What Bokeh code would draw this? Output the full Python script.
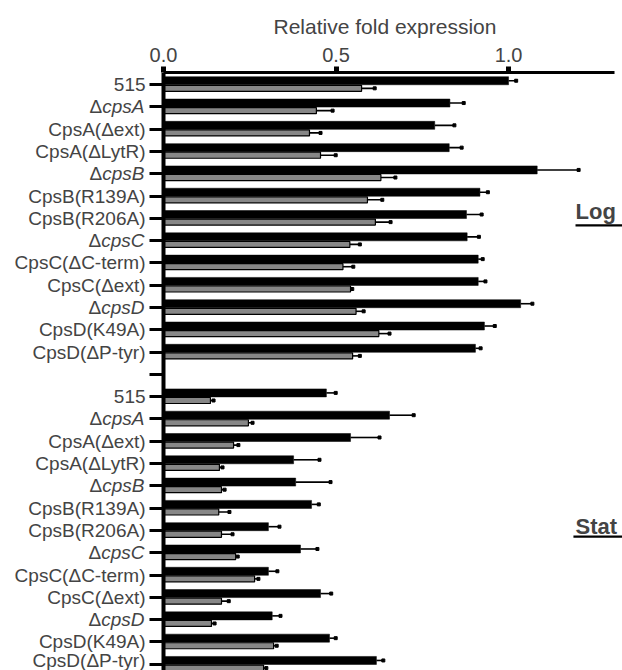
from bokeh.plotting import figure
from bokeh.models import (Range1d, FixedTicker, Label, ColumnDataSource,
                          PrintfTickFormatter, LinearAxis)
from bokeh.embed import file_html
from bokeh.resources import INLINE

strains = ["515", "ΔcpsA", "CpsA(Δext)", "CpsA(ΔLytR)", "ΔcpsB", "CpsB(R139A)",
           "CpsB(R206A)", "ΔcpsC", "CpsC(ΔC-term)", "CpsC(Δext)", "ΔcpsD",
           "CpsD(K49A)", "CpsD(ΔP-tyr)"]
groups = ["Log", "Stat"]

log_black = [1.00, 0.83, 0.786, 0.828, 1.083, 0.917, 0.878, 0.88, 0.912, 0.912, 1.035, 0.93, 0.904]
log_black_err = [0.022, 0.04, 0.057, 0.036, 0.12, 0.023, 0.044, 0.034, 0.013, 0.021, 0.034, 0.03, 0.015]
log_gray = [0.574, 0.443, 0.423, 0.455, 0.63, 0.591, 0.614, 0.54, 0.52, 0.542, 0.558, 0.624, 0.548]
log_gray_err = [0.038, 0.047, 0.032, 0.044, 0.042, 0.043, 0.044, 0.029, 0.03, 0.005, 0.022, 0.031, 0.021]

stat_black = [0.472, 0.655, 0.542, 0.377, 0.383, 0.429, 0.304, 0.397, 0.304, 0.455, 0.315, 0.481, 0.617]
stat_black_err = [0.027, 0.07, 0.084, 0.075, 0.101, 0.021, 0.032, 0.049, 0.026, 0.031, 0.024, 0.018, 0.02]
stat_gray = [0.136, 0.246, 0.203, 0.162, 0.168, 0.16, 0.168, 0.209, 0.264, 0.168, 0.139, 0.319, 0.29]
stat_gray_err = [0.009, 0.012, 0.014, 0.009, 0.009, 0.031, 0.032, 0.006, 0.011, 0.021, 0.009, 0.009, 0.008]

x_ticks = [0.0, 0.5, 1.0]
x_title = "Relative fold expression"

FONT = "Liberation Sans"
PX_PER_UNIT = 345.0
n = len(strains)
gap_slot = n
slots = list(range(n)) + [n + 1 + i for i in range(n)]
names = strains + strains
black = log_black + stat_black
black_err = log_black_err + stat_black_err
gray = log_gray + stat_gray
gray_err = log_gray_err + stat_gray_err

B_OFF, G_OFF = -0.17, 0.17

black_src = ColumnDataSource(dict(
    y=[s + B_OFF for s in slots], v=black,
    e=[v + e for v, e in zip(black, black_err)]))
gray_src = ColumnDataSource(dict(
    y=[s + G_OFF for s in slots], v=gray,
    e=[v + e for v, e in zip(gray, gray_err)]))

x_start = -163 / PX_PER_UNIT
x_end = 1.307 + 8 / PX_PER_UNIT

p = figure(width=622, height=670, output_backend="svg", toolbar_location=None,
           x_range=Range1d(x_start, x_end), y_range=Range1d(26.28, -0.54),
           x_axis_location="above", y_axis_location=None,
           min_border_left=0, min_border_right=0, min_border_top=72,
           min_border_bottom=0)
p.outline_line_color = None
p.grid.visible = False
p.background_fill_color = "white"

# axis title as the plot title, placed over the axis span
p.title.text = x_title
p.title.align = "left"
p.title.offset = 273
p.title.text_font = FONT
p.title.text_font_size = "21px"
p.title.text_font_style = "normal"
p.title.standoff = 14

# error bars
p.segment(x0="v", x1="e", y0="y", y1="y", source=black_src, line_color="black", line_width=1.6)
p.segment(x0="v", x1="e", y0="y", y1="y", source=gray_src, line_color="black", line_width=1.6)
p.scatter(x="e", y="y", source=black_src, marker="square", size=3, color="black")
p.scatter(x="e", y="y", source=gray_src, marker="square", size=3, color="black")

# bars
p.hbar(y="y", left=0, right="v", height=0.36, source=black_src,
       fill_color="black", line_color="black", line_width=0.5)
p.hbar(y="y", left=0, right="v", height=0.27, source=gray_src,
       fill_color="#878787", line_color="black", line_width=1.2)

# x axis (top)
xa = p.xaxis[0]
xa.bounds = (0, 1.307)
xa.ticker = FixedTicker(ticks=x_ticks)
xa.formatter = PrintfTickFormatter(format="%.1f")
xa.major_label_text_font = FONT
xa.major_label_text_font_size = "20px"
xa.major_label_standoff = 5
xa.axis_line_width = 3
xa.major_tick_line_width = 5
xa.major_tick_out = 6
xa.major_tick_in = 0
xa.minor_tick_line_color = None

# y axis (left), fixed at x = 0
overrides = {}
for s, nm in zip(slots, names):
    overrides[s] = "" if nm.startswith("Δcps") else nm
overrides[gap_slot] = ""
ya = LinearAxis(fixed_location=0,
                ticker=FixedTicker(ticks=list(range(2 * n + 1))),
                major_label_overrides=overrides,
                major_label_text_font=FONT,
                major_label_text_font_size="19px",
                major_label_standoff=4,
                axis_line_width=4,
                major_tick_line_width=3,
                major_tick_out=14,
                major_tick_in=0,
                minor_tick_line_color=None)
p.add_layout(ya, "left")

# italic gene labels (Δ upright + italic gene name)
LABEL_GAP = 19
ital_w = {"cpsA": 2.223, "cpsB": 2.223, "cpsC": 2.278, "cpsD": 2.278}
for s, nm in zip(slots, names):
    if nm.startswith("Δcps"):
        gene = nm[1:]
        w = ital_w[gene] * 19
        p.add_layout(Label(x=0, y=s, x_offset=-LABEL_GAP,
                           text=gene, text_font=FONT, text_font_size="19px",
                           text_font_style="italic", text_align="right",
                           text_baseline="middle"))
        p.add_layout(Label(x=0, y=s, x_offset=-LABEL_GAP - w,
                           text="Δ", text_font=FONT, text_font_size="19px",
                           text_align="right", text_baseline="middle"))

# group labels on the right, underlined
for g, ys in zip(groups, [5.7, 19.8]):
    p.add_layout(Label(x=1.194, y=ys,
                       text=g, text_font=FONT, text_font_size="22px",
                       text_font_style="bold", text_align="left",
                       text_baseline="alphabetic"))
p.segment(x0=[1.194, 1.188], x1=[1.35, 1.35], y0=[6.32, 20.28], y1=[6.32, 20.28],
          line_color="black", line_width=2.2)

open("out.html", "w").write(file_html(p, INLINE))
